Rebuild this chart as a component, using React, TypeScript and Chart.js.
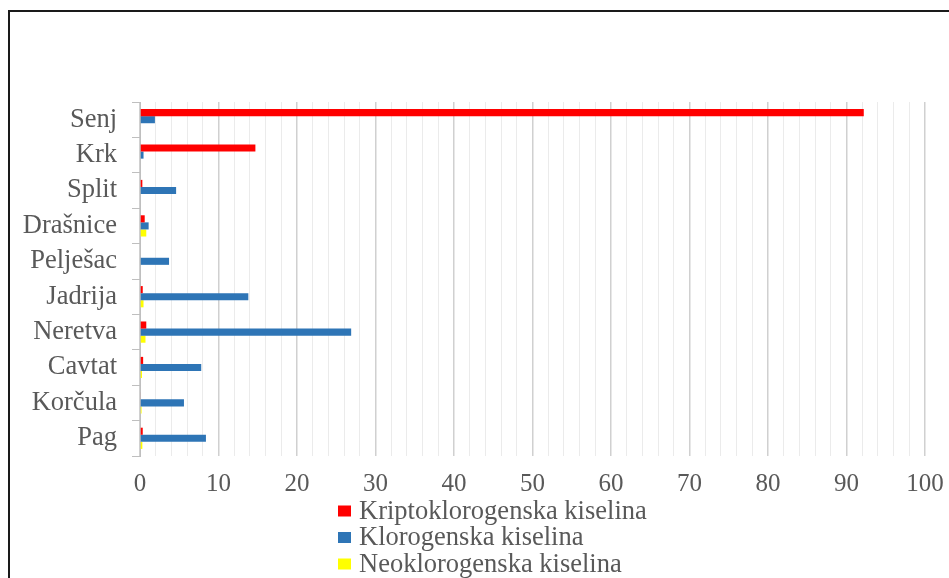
import React, { useEffect, useRef } from 'react';
import { Chart, registerables } from 'chart.js';

Chart.register(...registerables);

const categories = ['Senj', 'Krk', 'Split', 'Drašnice', 'Pelješac', 'Jadrija', 'Neretva', 'Cavtat', 'Korčula', 'Pag'];
const kriptoklorogenska = [92.2, 14.7, 0.3, 0.6, 0, 0.35, 0.8, 0.4, 0.1, 0.35];
const klorogenska = [1.9, 0.45, 4.6, 1.1, 3.7, 13.8, 26.9, 7.8, 5.6, 8.4];
const neoklorogenska = [0, 0, 0, 0.8, 0, 0.45, 0.7, 0.25, 0.2, 0.3];
const seriesLabels = ['Kriptoklorogenska kiselina', 'Klorogenska kiselina', 'Neoklorogenska kiselina'];
const seriesColors = ['#ff0000', '#2e75b6', '#ffff00'];
const xMin = 0;
const xMax = 100;
const xMajorStep = 10;
const xMinorStep = 2;

const FONT = '"Liberation Serif", "Times New Roman", serif';
const TEXT = '#595959';

const stackedLegend = {
  id: 'stackedLegend',
  afterDraw(chart: any) {
    const ctx = chart.ctx;
    const x0 = 338;
    const y0 = 511;
    const line = 26.5;
    ctx.save();
    ctx.font = '26.5px ' + FONT;
    ctx.textBaseline = 'middle';
    ctx.textAlign = 'left';
    chart.data.datasets.forEach((ds: any, i: number) => {
      const y = y0 + i * line;
      ctx.fillStyle = ds.backgroundColor;
      ctx.fillRect(x0, y - 5.5, 13, 11);
      ctx.fillStyle = TEXT;
      ctx.fillText(ds.label, x0 + 21, y + 1);
    });
    ctx.restore();
  },
};

export default function App() {
  const ref = useRef<HTMLCanvasElement | null>(null);

  useEffect(() => {
    document.body.style.margin = '0';
    const canvas = ref.current;
    if (!canvas) return;
    const values = [kriptoklorogenska, klorogenska, neoklorogenska];
    const chart = new Chart(canvas, {
      type: 'bar',
      data: {
        labels: categories,
        datasets: values.map((v, i) => ({
          label: seriesLabels[i],
          data: v,
          backgroundColor: seriesColors[i],
          borderWidth: 0,
          categoryPercentage: 0.6,
          barPercentage: 1,
        })),
      },
      options: {
        indexAxis: 'y',
        animation: false,
        responsive: false,
        devicePixelRatio: 1,
        layout: { padding: { top: 102, right: 24, bottom: 82, left: 0 } },
        plugins: {
          legend: { display: false },
          tooltip: { enabled: false },
        },
        scales: {
          x: {
            min: xMin,
            max: xMax,
            ticks: {
              stepSize: xMinorStep,
              autoSkip: false,
              maxRotation: 0,
              color: TEXT,
              font: { family: FONT, size: 25 },
              padding: 13,
              callback: (v: any) => (Number(v) % xMajorStep === 0 ? String(v) : ''),
            },
            grid: {
              drawTicks: false,
              color: (c: any) => (c.tick && c.tick.value % xMajorStep === 0 ? '#d0d0d0' : '#ebebeb'),
              lineWidth: (c: any) => (c.tick && c.tick.value % xMajorStep === 0 ? 1.5 : 1),
            },
            border: { display: false },
            afterFit: (s: any) => {
              s.height = 40;
              s.paddingLeft = 0;
              s.paddingRight = 0;
            },
          },
          y: {
            ticks: {
              color: TEXT,
              font: { family: FONT, size: 26.5 },
              padding: 15,
            },
            grid: {
              drawOnChartArea: false,
              drawTicks: true,
              tickLength: 8,
              color: '#bfbfbf',
            },
            border: { display: true, color: '#bfbfbf' },
            afterFit: (s: any) => {
              s.width = 140;
              s.paddingTop = 0;
              s.paddingBottom = 0;
            },
          },
        },
      },
      plugins: [stackedLegend],
    } as any);
    return () => chart.destroy();
  }, []);

  return (
    <div style={{ position: 'relative', width: 949, height: 578, overflow: 'hidden', background: '#fff' }}>
      <div
        style={{
          position: 'absolute',
          left: 8,
          top: 10,
          width: 1100,
          height: 800,
          border: '2px solid #1a1a1a',
          boxSizing: 'border-box',
        }}
      />
      <canvas ref={ref} width={949} height={578} style={{ position: 'absolute', left: 0, top: 0 }} />
    </div>
  );
}
